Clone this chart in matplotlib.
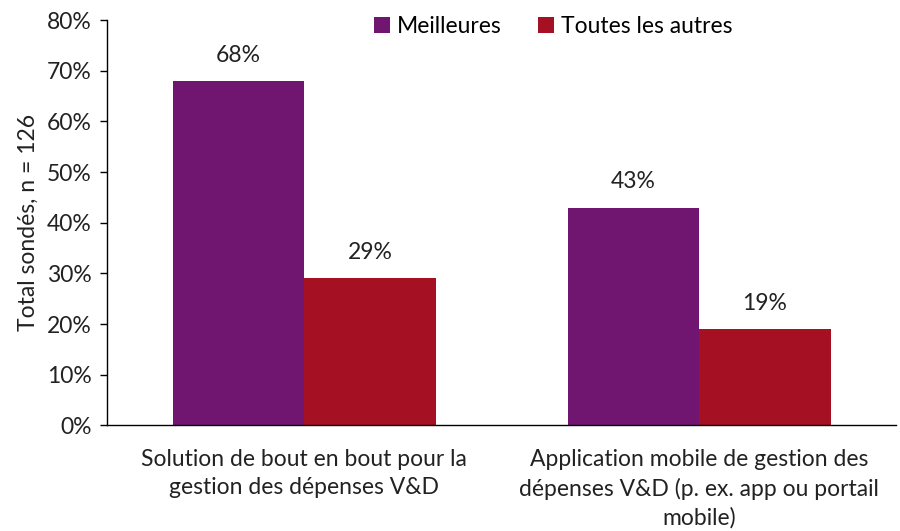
import numpy as np
import matplotlib.pyplot as plt

categories = ["Solution de bout en bout pour la\ngestion des dépenses V&D",
              "Application mobile de gestion des\ndépenses V&D (p. ex. app ou portail\nmobile)"]
series_names = ["Meilleures", "Toutes les autres"]
meilleures = [68, 43]
autres = [29, 19]
y_ticks = [0, 10, 20, 30, 40, 50, 60, 70, 80]

colors = ["#701570", "#A51022"]
fs = 16.5

plt.rcParams['font.family'] = ['Lato', 'DejaVu Sans']

fig = plt.figure(figsize=(9, 5.31), dpi=100)
ax = fig.add_axes([0.119, 0.199, 0.877, 0.763])

x = np.arange(len(categories))
w = 1 / 3
b1 = ax.bar(x - w / 2, meilleures, w, color=colors[0], label=series_names[0])
b2 = ax.bar(x + w / 2, autres, w, color=colors[1], label=series_names[1])

for bars, vals in ((b1, meilleures), (b2, autres)):
    for rect, v in zip(bars, vals):
        ax.annotate(f"{v}%", (rect.get_x() + rect.get_width() / 2, v),
                    xytext=(0, 11), textcoords="offset points",
                    ha="center", va="bottom", fontsize=fs, color="#222222")

ax.set_xlim(-0.5, 1.5)
ax.set_ylim(0, 80)
ax.set_yticks(y_ticks)
ax.set_yticklabels([f"{t}%" for t in y_ticks], fontsize=fs, color="#222222")
ax.set_xticks(x)
ax.set_xticklabels(categories, fontsize=fs, color="#222222", linespacing=1.42)
ax.tick_params(axis="x", length=0, pad=17)
ax.tick_params(axis="y", length=5, width=1, direction="out", pad=6)
ax.set_ylabel("Total sondés, n = 126", fontsize=fs, color="#222222", labelpad=6)

for s in ("top", "right"):
    ax.spines[s].set_visible(False)
ax.spines["left"].set_linewidth(1)
ax.spines["bottom"].set_linewidth(1)

ax.legend(loc="upper center", bbox_to_anchor=(0.565, 1.06), ncol=2, frameon=False,
          fontsize=fs, handlelength=0.7, handleheight=0.7, handletextpad=0.3,
          columnspacing=1.6)

fig.savefig("out.png", dpi=100)
